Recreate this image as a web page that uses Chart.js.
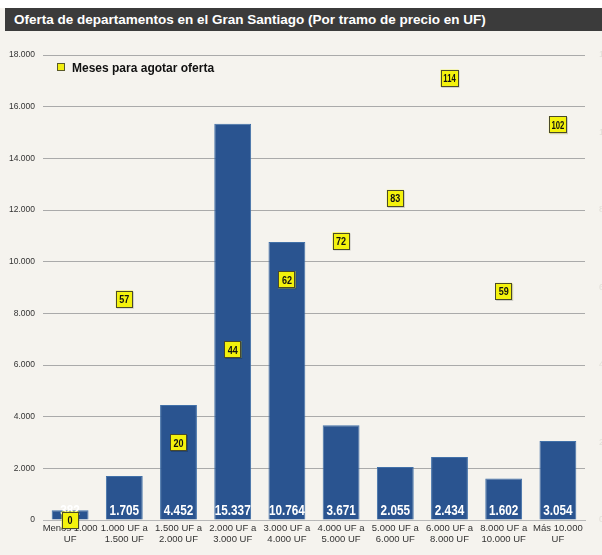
<!DOCTYPE html>
<html>
<head>
<meta charset="utf-8">
<script src="https://cdn.jsdelivr.net/npm/chart.js@4"></script>
<style>
  html, body { margin: 0; padding: 0; }
  body { width: 602px; height: 555px; background: #f5f3ee; position: relative; overflow: hidden; font-family: "Liberation Sans", Arial, sans-serif; }
  .top-strip { position: absolute; left: 0; top: 0; width: 602px; height: 8px; background: #fff; }
  .title { position: absolute; left: 5px; top: 8px; width: 597px; height: 23px; background: #3b3b3b; color: #fff;
           font-weight: bold; font-size: 13.5px; line-height: 23px; padding-left: 9px; box-sizing: border-box; }
  .legend { position: absolute; left: 57px; top: 61px; font-weight: bold; font-size: 12px; color: #111; }
  .legend span { display: inline-block; width: 6px; height: 6px; background: #f2ee10; border: 1px solid #5a5a2a; margin-right: 7px; vertical-align: 1px; }
  #wrap { position: absolute; left: 0; top: 35px; width: 602px; height: 520px; }
</style>
</head>
<body>
<div class="top-strip"></div>
<div class="title">Oferta de departamentos en el Gran Santiago (Por tramo de precio en UF)</div>
<div id="wrap"><canvas id="chart"></canvas></div>
<div class="legend"><span></span>Meses para agotar oferta</div>
<script>
// price brackets (two-line labels)
const tramos = [
  ['Menos 1.000', 'UF'], ['1.000 UF a', '1.500 UF'], ['1.500 UF a', '2.000 UF'],
  ['2.000 UF a', '3.000 UF'], ['3.000 UF a', '4.000 UF'], ['4.000 UF a', '5.000 UF'],
  ['5.000 UF a', '6.000 UF'], ['6.000 UF a', '8.000 UF'], ['8.000 UF a', '10.000 UF'],
  ['Más 10.000', 'UF']
];
// units on offer
const oferta = [382, 1705, 4452, 15337, 10764, 3671, 2055, 2434, 1602, 3054];
// months to sell out the stock
const meses = [0, 57, 20, 44, 62, 72, 83, 114, 59, 102];
// axis ticks
const ticksOferta = [0, 2000, 4000, 6000, 8000, 10000, 12000, 14000, 16000, 18000];
const ticksMeses = [0, 20, 40, 60, 80, 100, 120];

const fmt = v => String(v).replace(/\B(?=(\d{3})+(?!\d))/g, '.');

// draw text squeezed horizontally (no narrow font available)
function narrowText(ctx, txt, x, y, sx) {
  ctx.save();
  ctx.translate(x, y);
  ctx.scale(sx, 1);
  ctx.fillText(txt, 0, 0);
  ctx.restore();
}

// white numbers at the foot of each bar
const barLabels = {
  id: 'barLabels',
  afterDatasetsDraw(chart) {
    const ctx = chart.ctx;
    const meta = chart.getDatasetMeta(0);
    const bottom = chart.scales.y.bottom;
    ctx.save();
    ctx.fillStyle = '#fff';
    ctx.font = 'bold 14px "Liberation Sans", Arial';
    ctx.textAlign = 'center';
    ctx.textBaseline = 'alphabetic';
    meta.data.forEach((bar, i) => {
      narrowText(ctx, fmt(oferta[i]), bar.x, bottom - 5, 0.84);
    });
    ctx.restore();
  }
};

// yellow boxes with month counts
const monthBoxes = {
  id: 'monthBoxes',
  afterDatasetsDraw(chart) {
    const ctx = chart.ctx;
    const meta = chart.getDatasetMeta(1);
    ctx.save();
    ctx.font = 'bold 11px "Liberation Sans", Arial';
    ctx.textAlign = 'center';
    ctx.textBaseline = 'middle';
    meta.data.forEach((pt, i) => {
      const txt = String(meses[i]);
      const w = txt.length > 2 ? 18 : 17, h = 17;
      ctx.fillStyle = 'rgba(0,0,0,0.18)';
      ctx.fillRect(pt.x - w / 2 + 1, pt.y - h / 2 + 1, w, h);
      ctx.fillStyle = '#f4f20c';
      ctx.fillRect(pt.x - w / 2, pt.y - h / 2, w, h);
      ctx.strokeStyle = '#4a4a2a';
      ctx.lineWidth = 1;
      ctx.strokeRect(Math.round(pt.x - w / 2) + 0.5, Math.round(pt.y - h / 2) + 0.5, w - 1, h - 1);
      ctx.fillStyle = '#111';
      narrowText(ctx, txt, pt.x, pt.y + 1, txt.length > 2 ? 0.7 : 0.82);
    });
    ctx.restore();
  }
};

new Chart(document.getElementById('chart'), {
  data: {
    labels: tramos,
    datasets: [
      {
        type: 'bar',
        data: oferta,
        backgroundColor: '#2a5490',
        borderColor: '#4170a8',
        borderWidth: 1,
        categoryPercentage: 0.68,
        barPercentage: 1,
        yAxisID: 'y',
        order: 2
      },
      {
        type: 'line',
        data: meses,
        showLine: false,
        pointRadius: 0,
        yAxisID: 'y2',
        order: 1
      }
    ]
  },
  options: {
    responsive: true,
    maintainAspectRatio: false,
    animation: false,
    layout: { padding: { top: 20, bottom: 0, left: 0, right: 0 } },
    plugins: { legend: { display: false }, tooltip: { enabled: false } },
    scales: {
      x: {
        grid: { display: false, drawTicks: false },
        border: { color: '#b8b8b8' },
        ticks: { color: '#333', font: { size: 9.5, family: '"Liberation Sans", Arial', lineHeight: 1.15 }, maxRotation: 0, autoSkip: false, padding: 3 },
        afterFit(s) { s.height = 35; }
      },
      y: {
        position: 'left',
        min: 0, max: 18000,
        afterBuildTicks(s) { s.ticks = ticksOferta.map(v => ({ value: v })); },
        grid: { color: '#aaaaaa', drawTicks: true, tickLength: 0 },
        border: { display: false },
        ticks: { color: '#333', font: { size: 8.5, family: '"Liberation Sans", Arial' }, padding: 8, callback: v => fmt(v) },
        afterFit(s) { s.width = 43; }
      },
      y2: {
        position: 'right',
        min: 0, max: 120,
        afterBuildTicks(s) { s.ticks = ticksMeses.map(v => ({ value: v })); },
        grid: { display: false },
        border: { display: false },
        ticks: { color: '#e2dfd8', font: { size: 9, family: '"Liberation Sans", Arial' }, padding: 6 },
        afterFit(s) { s.width = 17; }
      }
    }
  },
  plugins: [barLabels, monthBoxes]
});
</script>
</body>
</html>
